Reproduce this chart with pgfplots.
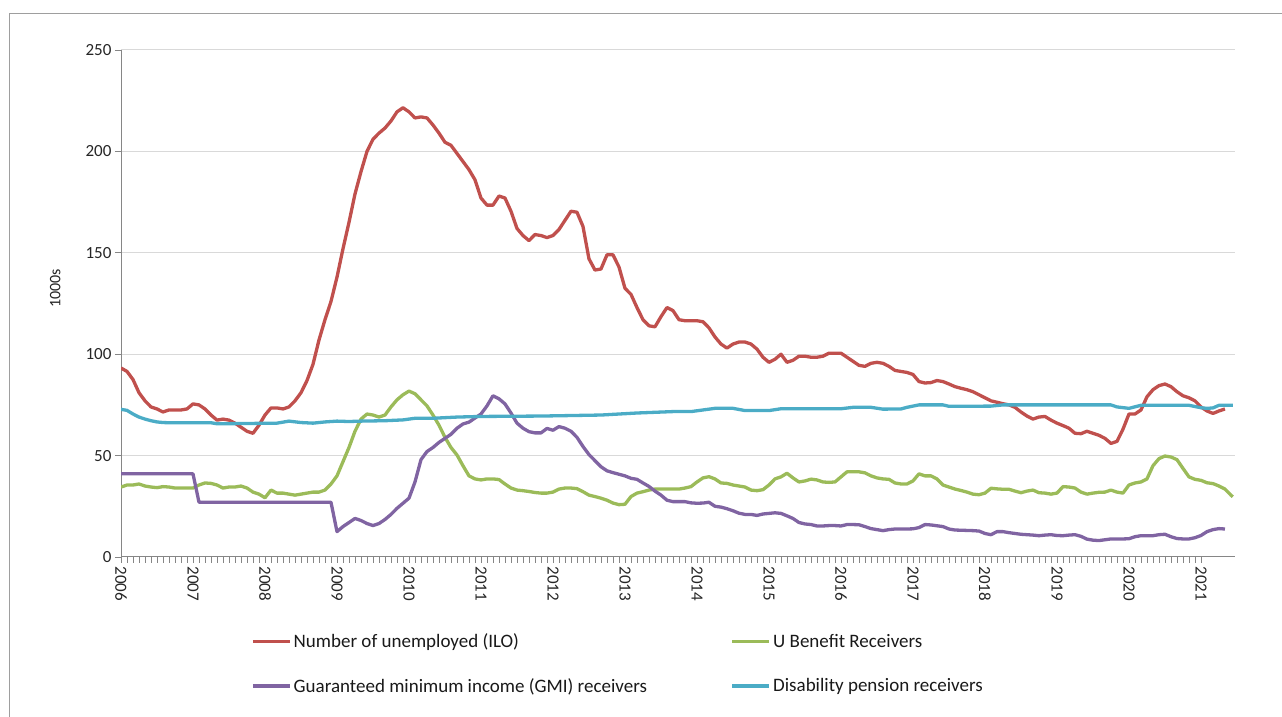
\documentclass[border=0pt]{standalone}
\usepackage{fontspec}
\setmainfont{Carlito}
\usepackage{pgfplots}
\pgfplotsset{compat=1.18}
\definecolor{cred}{HTML}{C0504D}
\definecolor{cgreen}{HTML}{9BBB59}
\definecolor{cpurple}{HTML}{8064A2}
\definecolor{ccyan}{HTML}{4BACC6}
\definecolor{axgray}{HTML}{868686}
\definecolor{grd}{HTML}{D9D9D9}
\begin{document}
\begin{tikzpicture}
\useasboundingbox (0,0) rectangle (1282pt,717pt);
\draw[color=axgray!80,line width=1pt] (9pt,0pt) -- (9pt,703pt) -- (1282pt,703pt);
\begin{axis}[
  at={(121pt,160pt)}, anchor=south west,
  scale only axis, width=1114pt, height=507pt,
  xmin=0, xmax=185.67, ymin=0, ymax=250,
  axis x line=bottom, axis y line=left,
  axis line style={-, draw=axgray, line width=1pt},
  ytick={0,50,...,250},
  xtick={0,12,...,180},
  xticklabels={2006,2007,2008,2009,2010,2011,2012,2013,2014,2015,2016,2017,2018,2019,2020,2021},
  minor x tick num=11,
  tick align=outside,
  major tick length=6pt, minor tick length=6pt,
  tick style={draw=axgray, line width=0.8pt},
  ymajorgrids, major grid style={draw=grd, line width=1pt},
  /pgf/number format/assume math mode=true,
  ticklabel style={font=\fontsize{17}{20}\selectfont, text=black!85},
  xticklabel style={rotate=-90, anchor=west},
  ylabel={1000s},
  ylabel style={at={(axis description cs:-0.059,0.53)}, anchor=center, font=\fontsize{16}{19}\selectfont, text=black!85},
  legend columns=2,
  legend style={draw=none, fill=none, at={(axis description cs:0.1167,-0.147)}, anchor=north west, inner sep=0pt, font=\fontsize{19}{22}\selectfont, column sep=0pt, row sep=25pt, text=black!90},
  legend cell align=left,
  legend image code/.code={\draw[#1, line width=3.5pt] (0pt,0pt) -- (37pt,0pt);},
  every axis plot/.append style={line width=3.3pt, line join=round, mark=none},
]
\addplot[cred] coordinates {
(0,93.2)(1,91.5)(2,87.5)(3,81)(4,77)(5,74)(6,73)(7,71.5)(8,72.5)(9,72.5)(10,72.5)(11,73)
(12,75.5)(13,75)(14,73)(15,70)(16,67.5)(17,68)(18,67.5)(19,66)(20,64)(21,62)(22,61)(23,65)
(24,70)(25,73.5)(26,73.5)(27,73)(28,74)(29,77)(30,81)(31,87)(32,95)(33,107)(34,117)(35,126)
(36,138)(37,152)(38,165)(39,179)(40,190)(41,200)(42,206)(43,209)(44,211.5)(45,215)(46,219.5)(47,221.5)
(48,219.5)(49,216.5)(50,217)(51,216.5)(52,213)(53,209)(54,204.5)(55,203)(56,199)(57,195)(58,191)(59,186)
(60,177)(61,173.5)(62,173.5)(63,178)(64,177)(65,170.5)(66,162)(67,158.5)(68,156)(69,159)(70,158.5)(71,157.5)
(72,158.5)(73,161.5)(74,166)(75,170.5)(76,170)(77,163)(78,147)(79,141.5)(80,142)(81,149)(82,149)(83,143)
(84,132.5)(85,129.5)(86,123)(87,117)(88,114)(89,113.5)(90,118.5)(91,123)(92,121.5)(93,117)(94,116.5)(95,116.5)
(96,116.5)(97,116)(98,113)(99,108.5)(100,105)(101,103)(102,105)(103,106)(104,106)(105,105)(106,102.5)(107,98.5)
(108,96)(109,97.5)(110,100)(111,96)(112,97)(113,99)(114,99)(115,98.5)(116,98.5)(117,99)(118,100.5)(119,100.5)
(120,100.5)(121,98.5)(122,96.5)(123,94.5)(124,94)(125,95.5)(126,96)(127,95.5)(128,94)(129,92)(130,91.5)(131,91)
(132,90)(133,86.5)(134,85.8)(135,86)(136,87)(137,86.5)(138,85.3)(139,84)(140,83.2)(141,82.5)(142,81.5)(143,80)
(144,78.5)(145,77)(146,76.3)(147,75.6)(148,75)(149,73.8)(150,71.5)(151,69.5)(152,68)(153,69)(154,69.3)(155,67.5)
(156,66)(157,64.8)(158,63.5)(159,61)(160,60.8)(161,62)(162,61)(163,60)(164,58.5)(165,56)(166,57)(167,63)
(168,70.5)(169,70.5)(170,72.5)(171,79)(172,82.5)(173,84.5)(174,85.3)(175,84)(176,81.5)(177,79.5)(178,78.5)(179,77)
(180,74)(181,72)(182,70.8)(183,72)(184,73)
};
\addlegendentry{\makebox[435pt][l]{Number of unemployed (ILO)}}
\addplot[cgreen] coordinates {
(0,34.5)(1,35.5)(2,35.5)(3,36)(4,35)(5,34.5)(6,34.2)(7,34.7)(8,34.5)(9,34)(10,34)(11,34)
(12,34)(13,35.5)(14,36.5)(15,36.3)(16,35.5)(17,34)(18,34.5)(19,34.5)(20,35)(21,34)(22,32)(23,31)
(24,29.2)(25,33)(26,31.5)(27,31.5)(28,31)(29,30.5)(30,31)(31,31.5)(32,32)(33,32)(34,33)(35,36)
(36,40)(37,47)(38,54)(39,62)(40,68)(41,70.5)(42,70)(43,69)(44,70)(45,74)(46,77.5)(47,80)
(48,81.8)(49,80.5)(50,77.5)(51,74.5)(52,70)(53,65)(54,59)(55,54)(56,50.3)(57,45)(58,40)(59,38.5)
(60,38)(61,38.5)(62,38.5)(63,38.2)(64,36)(65,34)(66,33)(67,32.7)(68,32.3)(69,31.8)(70,31.5)(71,31.5)
(72,32)(73,33.5)(74,34)(75,34)(76,33.7)(77,32.2)(78,30.5)(79,29.8)(80,29)(81,28)(82,26.6)(83,25.8)
(84,26)(85,29.8)(86,31.5)(87,32.2)(88,33)(89,33.5)(90,33.5)(91,33.5)(92,33.5)(93,33.5)(94,34)(95,34.7)
(96,37)(97,39)(98,39.6)(99,38.5)(100,36.5)(101,36.3)(102,35.5)(103,35)(104,34.5)(105,33)(106,32.7)(107,33.2)
(108,35.5)(109,38.5)(110,39.5)(111,41.3)(112,39)(113,37)(114,37.5)(115,38.4)(116,38)(117,37)(118,36.8)(119,37)
(120,39.5)(121,42)(122,42)(123,42)(124,41.5)(125,40)(126,39)(127,38.5)(128,38.3)(129,36.5)(130,36)(131,36)
(132,37.5)(133,41)(134,40)(135,40)(136,38.5)(137,35.5)(138,34.5)(139,33.5)(140,32.8)(141,32)(142,31)(143,30.7)
(144,31.5)(145,33.9)(146,33.6)(147,33.4)(148,33.4)(149,32.5)(150,31.7)(151,32.5)(152,33)(153,31.7)(154,31.5)(155,31)
(156,31.5)(157,34.7)(158,34.5)(159,34)(160,32)(161,31)(162,31.5)(163,31.9)(164,32)(165,33)(166,32)(167,31.5)
(168,35.5)(169,36.5)(170,37)(171,38.5)(172,45)(173,48.5)(174,49.8)(175,49.3)(176,48)(177,43.7)(178,39.5)(179,38.3)
(180,37.8)(181,36.6)(182,36.2)(183,35)(184,33.5)(185,30.5)(185.3,29.7)
};
\addlegendentry{U Benefit Receivers}
\addplot[cpurple] coordinates {
(0,41)(12,41)(13,27)(35,27)(36,12.5)(37,15)(38,17)(39,19)(40,18)(41,16.5)(42,15.5)(43,16.5)(44,18.5)(45,21)(46,24)(47,26.5)
(48,29)(49,37)(50,48)(51,52)(52,54)(53,56.5)(54,58.5)(55,60.5)(56,63.5)(57,65.6)(58,66.5)(59,68.5)
(60,70.5)(61,74.5)(62,79.5)(63,78)(64,75.5)(65,71)(66,66)(67,63.5)(68,61.8)(69,61.2)(70,61.2)(71,63.4)
(72,62.5)(73,64.3)(74,63.5)(75,62)(76,59)(77,54.5)(78,50.5)(79,47.5)(80,44.5)(81,42.5)(82,41.6)(83,40.8)
(84,40)(85,38.8)(86,38.3)(87,36.5)(88,34.8)(89,32.5)(90,30.5)(91,28)(92,27.3)(93,27.3)(94,27.3)(95,26.7)
(96,26.5)(97,26.6)(98,27)(99,25)(100,24.6)(101,23.8)(102,22.8)(103,21.6)(104,21)(105,21)(106,20.5)(107,21.2)
(108,21.5)(109,21.8)(110,21.5)(111,20.3)(112,19)(113,17)(114,16.3)(115,16)(116,15.3)(117,15.3)(118,15.5)(119,15.5)
(120,15.3)(121,16)(122,16)(123,15.9)(124,15)(125,14)(126,13.5)(127,13)(128,13.5)(129,13.8)(130,13.8)(131,13.8)
(132,13.9)(133,14.5)(134,16)(135,15.8)(136,15.4)(137,15)(138,13.8)(139,13.3)(140,13.2)(141,13.1)(142,13)(143,12.8)
(144,11.6)(145,11)(146,12.5)(147,12.5)(148,12)(149,11.6)(150,11.2)(151,11)(152,10.8)(153,10.5)(154,10.8)(155,11)
(156,10.6)(157,10.5)(158,10.8)(159,11)(160,10.2)(161,8.8)(162,8.3)(163,8.1)(164,8.5)(165,8.9)(166,8.9)(167,8.9)
(168,9)(169,10)(170,10.5)(171,10.5)(172,10.5)(173,11)(174,11.2)(175,10)(176,9.1)(177,8.9)(178,8.9)(179,9.5)
(180,10.6)(181,12.5)(182,13.5)(183,14)(184,13.8)
};
\addlegendentry{\makebox[435pt][l]{Guaranteed minimum income (GMI) receivers}}
\addplot[ccyan] coordinates {
(0,72.8)(1,72.3)(2,70.5)(3,69)(4,68)(5,67.2)(6,66.6)(7,66.3)(8,66.2)(15,66.2)(16,65.7)(20,65.8)(26,66)
(28,67)(30,66.3)(32,66)(34,66.6)(36,67)(38,66.8)(40,67)(44,67.2)(47,67.6)(49,68.4)(52,68.4)(56,69)
(60,69.3)(70,69.5)(80,70)(86,71)(92,71.7)(95,71.7)(97,72.5)(99,73.3)(102,73.3)(104,72.2)(108,72.2)
(110,73.1)(120,73.1)(122,73.8)(125,73.8)(127,72.9)(130,73)(131,73.8)(133,75)(137,75)(138,74.3)(145,74.4)
(147,75)(165,75)(166,74)(168,73.3)(170,74.8)(178,74.8)(180,73.6)(181,73.3)(182,73.5)(183,74.8)(185.3,74.8)
};
\addlegendentry{Disability pension receivers}
\end{axis}
\end{tikzpicture}
\end{document}
